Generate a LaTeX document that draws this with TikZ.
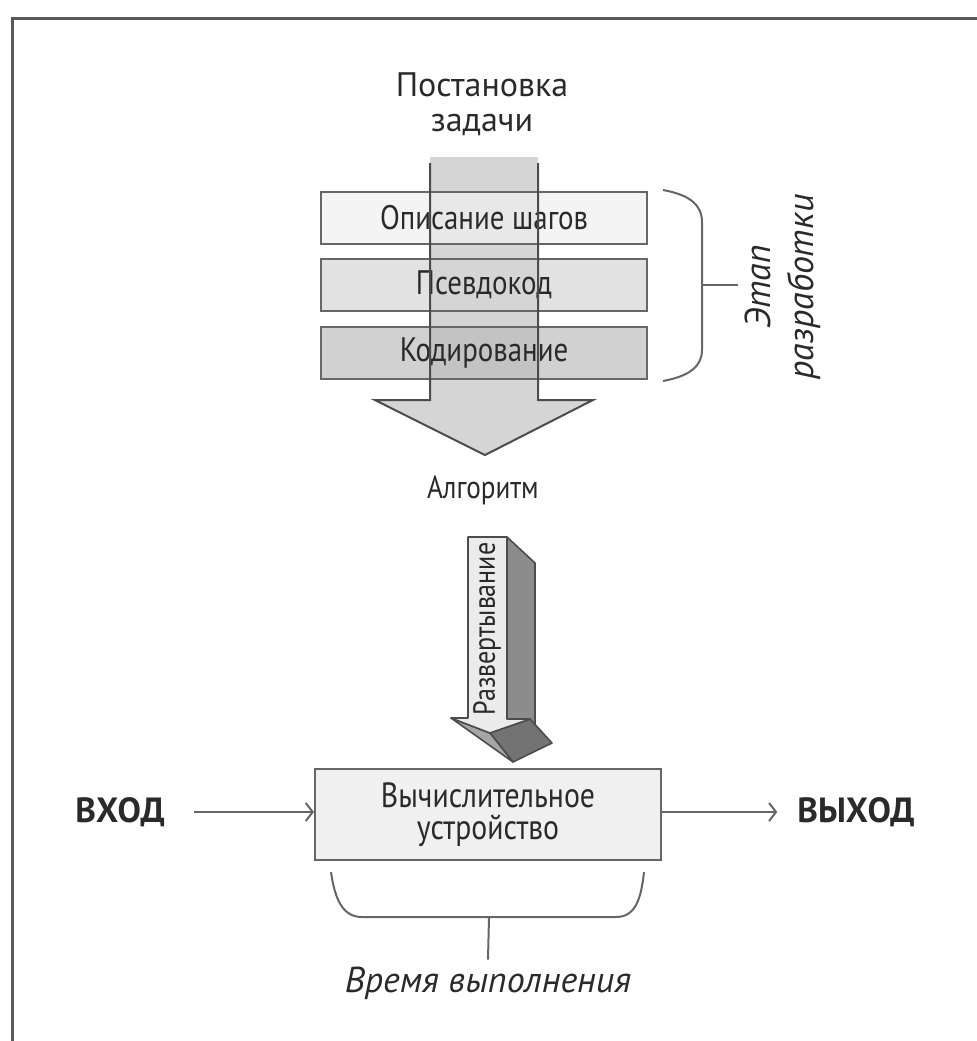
\documentclass[tikz,border=0pt]{standalone}
\usepackage{fontspec}
\setmainfont{PT Sans}
\newfontfamily\narrowfont[FakeStretch=0.85]{PT Sans}
\usetikzlibrary{positioning,arrows.meta}

\definecolor{boxa}{HTML}{F0F0F0}
\definecolor{boxb}{HTML}{D6D6D6}
\definecolor{boxc}{HTML}{BDBDBD}
\definecolor{devfill}{HTML}{F0F0F0}
\definecolor{edge}{HTML}{666666}
\definecolor{ink}{HTML}{2A2A2A}

\tikzset{
    stage/.style={draw=edge, line width=1pt, minimum width=163pt, minimum height=26pt, fill opacity=0.7, text opacity=1,
        font=\narrowfont\fontsize{17}{19}\selectfont, text=ink},
    brace/.style={draw=edge, line width=1pt},
    link/.style={draw=edge, line width=1pt, -{Straight Barb[length=3.5pt,width=9pt]}},
    io/.style={font=\bfseries\fontsize{17.5}{20}\selectfont, text=ink},
    caption/.style={font=\itshape\fontsize{18}{21.5}\selectfont, text=ink}
}

\begin{document}
\begin{tikzpicture}[x=0.5pt,y=-0.5pt]
                \useasboundingbox (0,0) rectangle (977,1041);
                \draw[black!65, line width=1.5pt] (12,1041) -- (12,18) -- (977,18);

                \node[font=\fontsize{17}{17.5}\selectfont, text=ink, align=center] (task) at (482,104) {Постановка\\задачи};

                \fill[black!30, fill opacity=0.55] (430,157) -- (430,400) -- (375,400) -- (485,455) -- (593,400) -- (538,400) -- (538,157) -- cycle;

                \node[stage, fill=boxa] (steps) at (484,218) {Описание шагов};
                \node[stage, fill=boxb] (pseudo) at (484,285) {Псевдокод};
                \node[stage, fill=boxc] (coding) at (484,353) {Кодирование};

                \draw[black!70, line width=1pt, line join=miter] (430,163) -- (430,400) -- (375,400) -- (485,455) -- (593,400) -- (538,400) -- (538,163);

                \draw[brace] (663,190) .. controls (690,195) and (702,205) .. (702,222) -- (702,350) .. controls (702,366) and (690,376) .. (663,381);
                \coordinate (bracemid) at (702,285);
                \coordinate (braceend) at (738,285);
                \draw[brace] (bracemid) -- (braceend);
                \node[caption, rotate=90, align=center] (phase) at (783,287) {Этап\\разработки};

                \node[font=\narrowfont\fontsize{16}{18}\selectfont, text=ink] (algo) at (483,490) {Алгоритм};

                \filldraw[draw=black!70, fill=black!45, line width=0.8pt, line join=round] (507,537) -- (535,563) -- (535,737) -- (530,719) -- (507,719) -- cycle;
                \filldraw[draw=black!70, fill=black!55, line width=0.8pt, line join=round] (490,733) -- (530,719) -- (552,743) -- (513,762) -- cycle;
                \filldraw[draw=black!70, fill=black!35, line width=0.8pt, line join=round] (451,718) -- (490,733) -- (513,762) -- cycle;
                \filldraw[draw=black!70, fill=black!8, line width=0.8pt, line join=round] (468,537) -- (507,537) -- (507,719) -- (530,719) -- (490,733) -- (451,718) -- (468,718) -- cycle;
                \node[font=\narrowfont\fontsize{15.3}{17}\selectfont, text=ink, rotate=90] (deploy) at (487,629) {Развертывание};

                \node[draw=edge, fill=devfill, line width=1pt, minimum width=173pt, minimum height=45.5pt,
                    font=\narrowfont\fontsize{17.5}{16}\selectfont, text=ink, align=center] (dev) at (488,814.5) {Вычислительное\\устройство};

                \node[io] (in) at (120,812) {ВХОД};
                \node[io] (out) at (856,812) {ВЫХОД};
                \draw[link, shorten <=11pt] (in) -- (in -| dev.west);
                \draw[link, shorten >=6.5pt] (out -| dev.east) -- (out);

                \draw[brace] (331,872) .. controls (335,900) and (343,917) .. (362,917) -- (616,917) .. controls (635,917) and (641,900) .. (644,872);
                \coordinate (runmid) at (489,917);
                \node[caption] (runtime) at (488,983) {Время выполнения};
                \draw[brace] (runmid) -- (runtime.north);
            \end{tikzpicture}
\end{document}
